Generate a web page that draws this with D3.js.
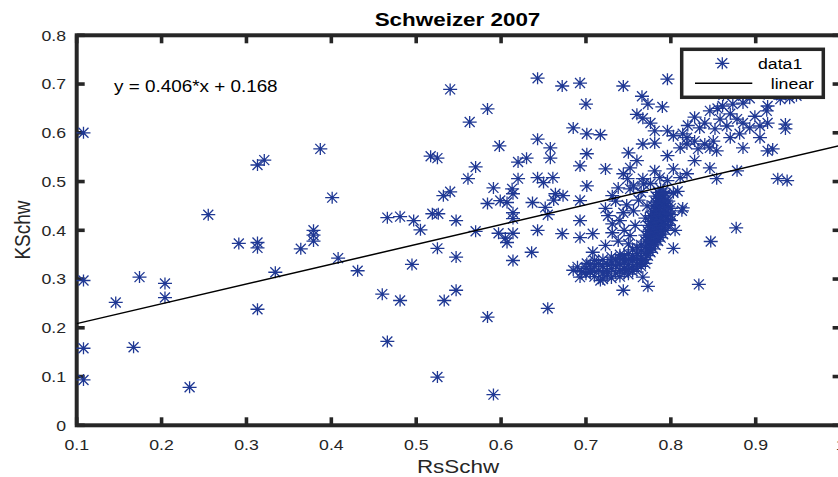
<!DOCTYPE html>
<html><head><meta charset="utf-8">
<script src="https://cdn.jsdelivr.net/npm/d3@7"></script>
<style>body{margin:0;background:#fff}text{font-family:"Liberation Sans",Arial,Helvetica,sans-serif;fill:#262626}</style>
</head><body><svg id="c" width="838" height="477"></svg>
<script>
const rsSchw = [
0.108,0.108,0.108,0.108,0.146,0.167,0.174,0.204,0.204,0.233,0.255,0.291,0.313,0.313,0.313,0.313,0.321,0.334,0.364,0.379,0.379,0.379,0.387,0.401,0.408,0.431,0.460,0.466,0.466,0.481,0.481,0.497,0.495,0.505,0.519,0.526,0.547,0.525,0.547,0.570,0.533,0.547,0.584,0.655,0.525,0.591,
0.540,0.643,0.584,0.563,0.643,0.598,0.517,0.525,0.620,0.630,0.570,0.561,0.620,0.643,0.650,0.591,0.613,0.614,0.540,0.532,0.584,0.599,0.607,0.637,0.614,0.614,0.597,0.605,0.614,0.643,0.636,0.614,0.607,0.652,0.662,0.655,
0.672,0.693,0.744,0.796,0.700,0.766,0.773,0.790,0.760,0.767,0.776,0.685,0.701,0.717,0.781,0.796,0.803,0.814,0.658,0.658,0.701,0.767,0.781,0.750,0.760,0.796,0.693,0.723,0.752,0.744,0.781,0.803,0.661,0.701,0.664,0.673,0.693,0.731,0.752,0.811,0.819,0.787,0.796,0.811,0.767,0.776,0.749,0.738,0.756,0.803,0.819,
0.861,0.873,0.885,0.893,0.914,0.929,0.940,0.870,0.878,0.913,0.899,0.834,0.852,0.866,0.885,0.893,0.905,0.914,0.935,0.935,0.819,0.828,0.840,0.850,0.870,0.881,0.905,0.832,0.846,0.854,0.885,0.914,0.920,0.828,0.846,0.878,0.854,0.926,0.937,0.814,0.846,0.855,0.828,0.840,0.858,0.820,0.862,0.885,0.910,0.930,0.948,
0.877,0.847,0.833,0.803,0.813,
0.693,0.672,0.693,0.708,0.731,0.731,0.723,0.744,0.752,0.708,0.723,0.685,0.693,0.705,0.717,0.744,0.773,0.767,0.701,0.740,0.748,0.756,0.762,0.758,0.745,0.735,0.765,0.768,0.772,0.770,0.726,0.738,0.750,0.808,0.805,
0.690,0.695,0.700,0.700,0.705,0.705,0.710,0.710,0.710,0.715,0.715,0.720,0.720,0.720,0.720,0.725,0.725,0.725,0.730,0.730,0.730,0.730,0.735,0.735,0.735,0.740,0.740,0.740,0.740,0.740,0.745,0.745,0.745,0.745,0.750,0.750,0.750,0.750,0.750,0.755,0.755,0.755,0.755,0.755,0.760,0.760,0.760,0.760,0.760,0.765,0.765,0.765,0.765,0.765,
0.770,0.770,0.770,0.770,0.770,0.770,0.773,0.773,0.773,0.773,0.773,0.773,0.776,0.776,0.776,0.776,0.776,0.776,0.776,0.779,0.779,0.779,0.779,0.779,0.779,0.779,0.779,0.782,0.782,0.782,0.782,0.782,0.782,0.782,0.782,0.782,0.785,0.785,0.785,0.785,0.785,0.785,0.785,0.785,0.785,0.788,0.788,0.788,0.788,0.788,0.788,0.788,0.788,0.788,0.791,0.791,0.791,0.791,0.791,0.791,0.791,0.791,0.794,0.794,0.794,0.794,0.794,0.794,0.794,0.797,0.797,0.797,0.797,0.797,0.800,0.800,0.800
];
const kSchw = [
0.600,0.297,0.158,0.093,0.252,0.160,0.304,0.291,0.262,0.078,0.432,0.373,0.375,0.364,0.238,0.534,0.544,0.314,0.362,0.378,0.400,0.390,0.567,0.467,0.343,0.317,0.269,0.172,0.426,0.428,0.256,0.420,0.330,0.401,0.434,0.434,0.420,0.363,0.345,0.398,0.256,0.277,0.222,0.240,0.099,0.063,
0.689,0.712,0.649,0.622,0.587,0.573,0.552,0.548,0.540,0.548,0.530,0.506,0.506,0.508,0.498,0.487,0.485,0.475,0.479,0.471,0.455,0.461,0.457,0.457,0.436,0.424,0.394,0.384,0.394,0.400,0.355,0.338,0.375,0.447,0.462,0.432,
0.696,0.702,0.696,0.710,0.659,0.675,0.659,0.653,0.638,0.630,0.620,0.610,0.598,0.596,0.604,0.604,0.594,0.598,0.569,0.548,0.557,0.577,0.579,0.559,0.543,0.553,0.532,0.526,0.528,0.516,0.522,0.526,0.508,0.491,0.475,0.471,0.461,0.471,0.485,0.569,0.577,0.508,0.502,0.508,0.506,0.496,0.506,0.487,0.491,0.477,0.516,
0.655,0.659,0.661,0.671,0.655,0.669,0.671,0.639,0.628,0.645,0.634,0.610,0.608,0.614,0.620,0.610,0.614,0.620,0.618,0.608,0.590,0.583,0.577,0.583,0.590,0.598,0.590,0.567,0.569,0.563,0.569,0.563,0.567,0.543,0.528,0.522,0.506,0.506,0.502,0.446,0.645,0.650,0.632,0.620,0.628,0.615,0.678,0.676,0.680,0.677,0.676,
0.405,0.377,0.289,0.363,0.440,
0.420,0.393,0.385,0.393,0.413,0.395,0.445,0.436,0.389,0.355,0.369,0.318,0.304,0.314,0.297,0.277,0.285,0.304,0.332,0.420,0.452,0.440,0.462,0.410,0.400,0.460,0.478,0.495,0.450,0.425,0.430,0.378,0.372,0.480,0.400,
0.325,0.315,0.322,0.310,0.330,0.316,0.305,0.325,0.338,0.318,0.332,0.300,0.312,0.326,0.340,0.316,0.330,0.308,0.322,0.335,0.345,0.302,0.312,0.328,0.340,0.318,0.330,0.342,0.305,0.350,0.322,0.335,0.312,0.348,0.320,0.330,0.340,0.352,0.310,0.325,0.338,0.348,0.316,0.360,0.330,0.342,0.352,0.322,0.365,0.335,0.345,0.358,0.370,0.326,
0.340,0.352,0.365,0.378,0.390,0.332,0.348,0.360,0.372,0.385,0.398,0.410,0.355,0.368,0.380,0.392,0.405,0.418,0.430,0.362,0.375,0.388,0.400,0.412,0.425,0.438,0.450,0.370,0.382,0.395,0.408,0.420,0.432,0.445,0.458,0.470,0.378,0.390,0.402,0.415,0.428,0.440,0.452,0.465,0.478,0.385,0.398,0.410,0.422,0.435,0.448,0.460,0.472,0.485,0.392,0.405,0.418,0.430,0.442,0.455,0.468,0.480,0.400,0.412,0.425,0.438,0.450,0.462,0.475,0.410,0.422,0.435,0.448,0.460,0.420,0.432,0.445
];
const xTicks = [0.1,0.2,0.3,0.4,0.5,0.6,0.7,0.8,0.9,1];
const yTicks = [0,0.1,0.2,0.3,0.4,0.5,0.6,0.7,0.8];
const fitSlope = 0.406, fitIntercept = 0.168;
const titleText = "Schweizer 2007", xLabelText = "RsSchw", yLabelText = "KSchw";
const equationText = "y = 0.406*x + 0.168";
const legendLabels = ["data1", "linear"];

const W = 838, H = 477, SX = 1.18;
const L = 76.7, R = 840.6, T = 35.3, B = 425.3;
const axisCol = "#262626", ptCol = "#1f3894";
const x = d3.scaleLinear().domain([0.1, 1]).range([L, R]);
const y = d3.scaleLinear().domain([0, 0.8]).range([B, T]);
const svg = d3.select("#c");
svg.append("rect").attr("width", W).attr("height", H).attr("fill", "#fff");
svg.append("clipPath").attr("id", "clip").append("rect")
  .attr("x", L).attr("y", T).attr("width", R - L).attr("height", B - T);

function txt(px, py, s, size, anchor, weight, rot) {
  const t = svg.append("text")
    .attr("transform", `translate(${px},${py}) scale(${SX},1)` + (rot ? ` rotate(${rot})` : ""))
    .attr("font-size", size).attr("text-anchor", anchor || "start").text(s);
  if (weight) t.attr("font-weight", weight);
  return t;
}

// axes box and ticks
const ax = svg.append("g");
ax.append("rect").attr("x", L).attr("y", T).attr("width", R - L).attr("height", B - T)
  .attr("fill", "none").attr("stroke", axisCol).attr("stroke-width", 4);
const tl = 8;
xTicks.forEach(v => {
  ax.append("line").attr("x1", x(v)).attr("x2", x(v)).attr("y1", B).attr("y2", B - tl).attr("stroke", axisCol).attr("stroke-width", 3.6);
  ax.append("line").attr("x1", x(v)).attr("x2", x(v)).attr("y1", T).attr("y2", T + tl).attr("stroke", axisCol).attr("stroke-width", 3.6);
  txt(x(v), 450, d3.format("~g")(v), 15, "middle");
});
yTicks.forEach(v => {
  ax.append("line").attr("y1", y(v)).attr("y2", y(v)).attr("x1", L).attr("x2", L + tl).attr("stroke", axisCol).attr("stroke-width", 3.6);
  ax.append("line").attr("y1", y(v)).attr("y2", y(v)).attr("x1", R).attr("x2", R - tl).attr("stroke", axisCol).attr("stroke-width", 3.6);
  txt(66, y(v) + 5.4, d3.format("~g")(v), 15, "end");
});

// points
const star = "M-7,0H7M0,-6V6M-5,-5L5,5M-5,5L5,-5";
svg.append("g").selectAll("path").data(d3.range(rsSchw.length)).join("path")
  .attr("d", star)
  .attr("transform", i => `translate(${x(rsSchw[i])},${y(kSchw[i])})`)
  .attr("fill", "none").attr("stroke", ptCol).attr("stroke-width", 1.3);

// fit line
svg.append("line").attr("clip-path", "url(#clip)")
  .attr("x1", x(0.1)).attr("y1", y(fitSlope * 0.1 + fitIntercept))
  .attr("x2", x(1)).attr("y2", y(fitSlope * 1 + fitIntercept))
  .attr("stroke", "#000").attr("stroke-width", 1.5);

// texts
txt(457.5, 26, titleText, 19, "middle", "bold").style("fill", "#000");
txt(458, 473, xLabelText, 19, "middle");
txt(29.5, 230, yLabelText, 19, "middle", null, -90);
txt(114, 91.7, equationText, 16, "start").style("fill", "#000");

// legend
const lg = svg.append("g");
lg.append("rect").attr("x", 681.7).attr("y", 49.3).attr("width", 141.6).attr("height", 48)
  .attr("fill", "#fff").attr("stroke", axisCol).attr("stroke-width", 3.5);
lg.append("path").attr("d", star).attr("transform", "translate(722.3,63.3)")
  .attr("fill", "none").attr("stroke", ptCol).attr("stroke-width", 1.3);
lg.append("line").attr("x1", 695).attr("x2", 752.3).attr("y1", 83.3).attr("y2", 83.3)
  .attr("stroke", "#000").attr("stroke-width", 1.5);
txt(758, 69.3, legendLabels[0], 15, "start").style("fill", "#000");
txt(814, 88.6, legendLabels[1], 15, "end").style("fill", "#000");
</script></body></html>
